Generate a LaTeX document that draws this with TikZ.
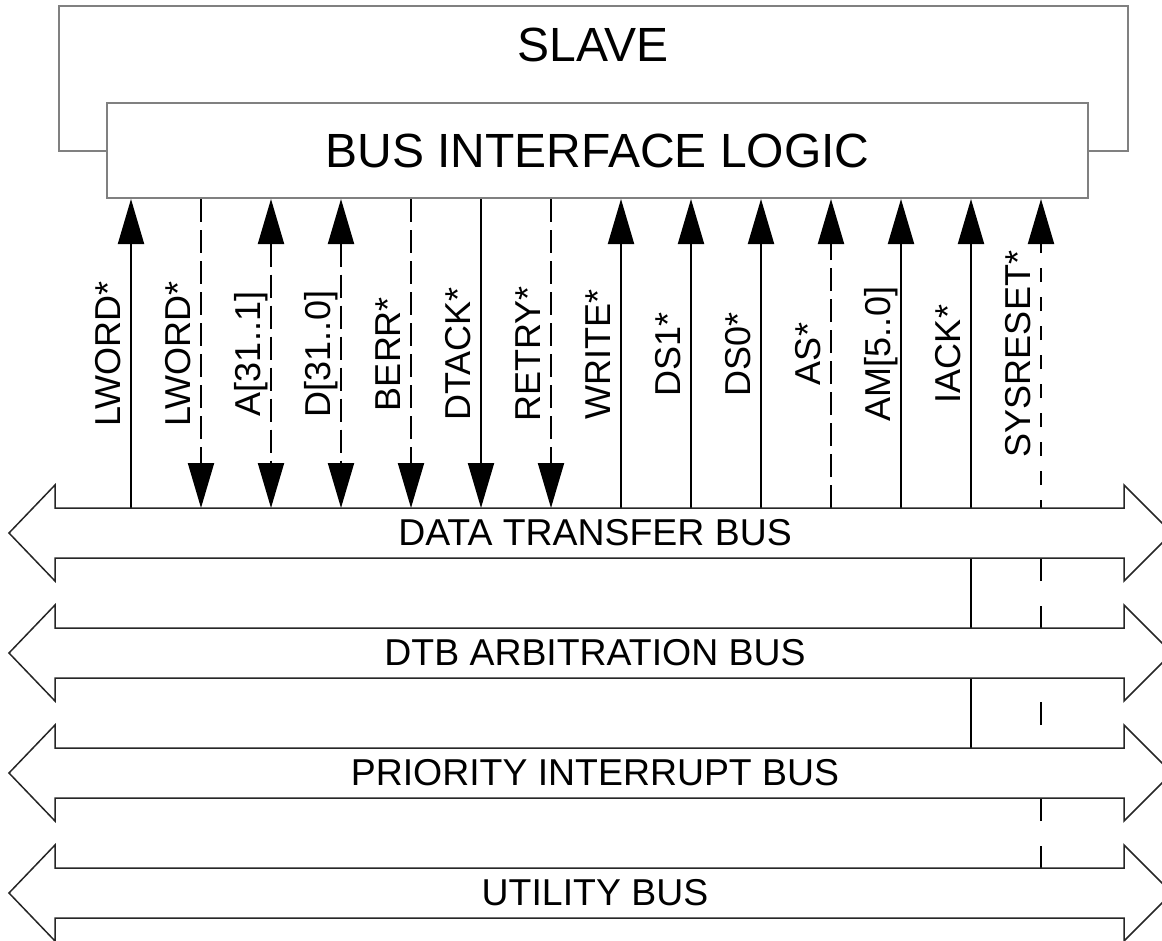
\documentclass[tikz,border=0pt]{standalone}
\usepackage{fontspec}
\setmainfont{Liberation Sans}
\usetikzlibrary{arrows.meta}

\newcommand{\titlesize}{\fontsize{48}{56}\selectfont}
\newcommand{\bussize}{\fontsize{37.4}{44}\selectfont}
\newcommand{\sigsize}{\fontsize{36}{43}\selectfont}

\tikzset{
  slavebox/.style={draw=gray, line width=2pt},
  sig/.style={line width=2pt},
  dsig/.style={sig, dash pattern=on 23pt off 8pt},
  siglabel/.style={rotate=90, anchor=base, inner sep=0pt, font=\sigsize},
  busarrow/.style={draw=black!85, line width=1.5pt, fill=white},
  buslabel/.style={inner sep=0pt, font=\bussize},
}

\begin{document}
\begin{tikzpicture}[x=1pt, y=-1pt, >={Triangle[length=45pt,width=26pt]}]
\useasboundingbox (0,0) rectangle (1162,940);
\clip (0,0) rectangle (1162,940);

% slave with its interface logic
\node[slavebox, minimum width=981pt, minimum height=95pt, font=\titlesize] (bil) at (597.5,150.5) {BUS INTERFACE LOGIC};
\node[font=\titlesize] (slave) at (593,45) {SLAVE};
\draw[slavebox] (bil.west) -- (59,150.5) -- (59,6) -- (1128,6) -- (1128,150.5) -- (bil.east);

% where the lines meet the buses
\coordinate (p1) at (131,508);
\coordinate (p2) at (201,508);
\coordinate (p3) at (271,508);
\coordinate (p4) at (341,508);
\coordinate (p5) at (411,508);
\coordinate (p6) at (481,508);
\coordinate (p7) at (551,508);
\coordinate (p8) at (621,508);
\coordinate (p9) at (691,508);
\coordinate (p10) at (761,508);
\coordinate (p11) at (831,508);
\coordinate (p12) at (901,508);
\coordinate (p13) at (971,749);
\coordinate (p14) at (1041,508);
\coordinate (q14) at (1041,869);

% signal lines
\draw[sig,->] (p1) -- (p1 |- bil.south);
\draw[dsig,->] (p2 |- bil.south) -- (p2);
\draw[dsig,<->] (p3 |- bil.south) -- (p3);
\draw[dsig,<->] (p4 |- bil.south) -- (p4);
\draw[dsig,->] (p5 |- bil.south) -- (p5);
\draw[sig,->] (p6 |- bil.south) -- (p6);
\draw[dsig,->] (p7 |- bil.south) -- (p7);
\draw[sig,->] (p8) -- (p8 |- bil.south);
\draw[sig,->] (p9) -- (p9 |- bil.south);
\draw[sig,->] (p10) -- (p10 |- bil.south);
\draw[dsig,->] (p11) -- (p11 |- bil.south);
\draw[sig,->] (p12) -- (p12 |- bil.south);
\draw[sig,->] (p13) -- (p13 |- bil.south);
\draw[sig, dash pattern=on 23pt off 25pt] (q14) -- (p14);
\draw[sig, dash pattern=on 14pt off 15pt, dash phase=6pt, ->] (p14) -- (p14 |- bil.south);

% signal names
\node[siglabel] (lwordin) at (120,354) {LWORD*};
\node[siglabel] (lwordout) at (190,354) {LWORD*};
\node[siglabel] (addr) at (260,354) {A[31..1]};
\node[siglabel] (data) at (330,354) {D[31..0]};
\node[siglabel] (berr) at (400,354) {BERR*};
\node[siglabel] (dtack) at (470,354) {DTACK*};
\node[siglabel] (retry) at (540,354) {RETRY*};
\node[siglabel] (write) at (610,354) {WRITE*};
\node[siglabel] (dsone) at (680,354) {DS1*};
\node[siglabel] (dszero) at (750,354) {DS0*};
\node[siglabel] (as) at (820,354) {AS*};
\node[siglabel] (am) at (890,354) {AM[5..0]};
\node[siglabel] (iack) at (960,354) {IACK*};
\node[siglabel] (sysreset) at (1030,354) {SYSRESET*};

% the four buses
\foreach \c in {533,653,773,893}
  \draw[busarrow] (9,\c) -- (55,{\c-48}) -- (55,{\c-25}) -- (1124,{\c-25}) -- (1124,{\c-48})
    -- (1172,\c) -- (1124,{\c+48}) -- (1124,{\c+25}) -- (55,{\c+25}) -- (55,{\c+48}) -- cycle;

\node[buslabel] (dtb) at (595,533) {DATA TRANSFER BUS};
\node[buslabel] (arb) at (595,653) {DTB ARBITRATION BUS};
\node[buslabel] (pib) at (595,773) {PRIORITY INTERRUPT BUS};
\node[buslabel] (util) at (595,893) {UTILITY BUS};
\end{tikzpicture}
\end{document}
